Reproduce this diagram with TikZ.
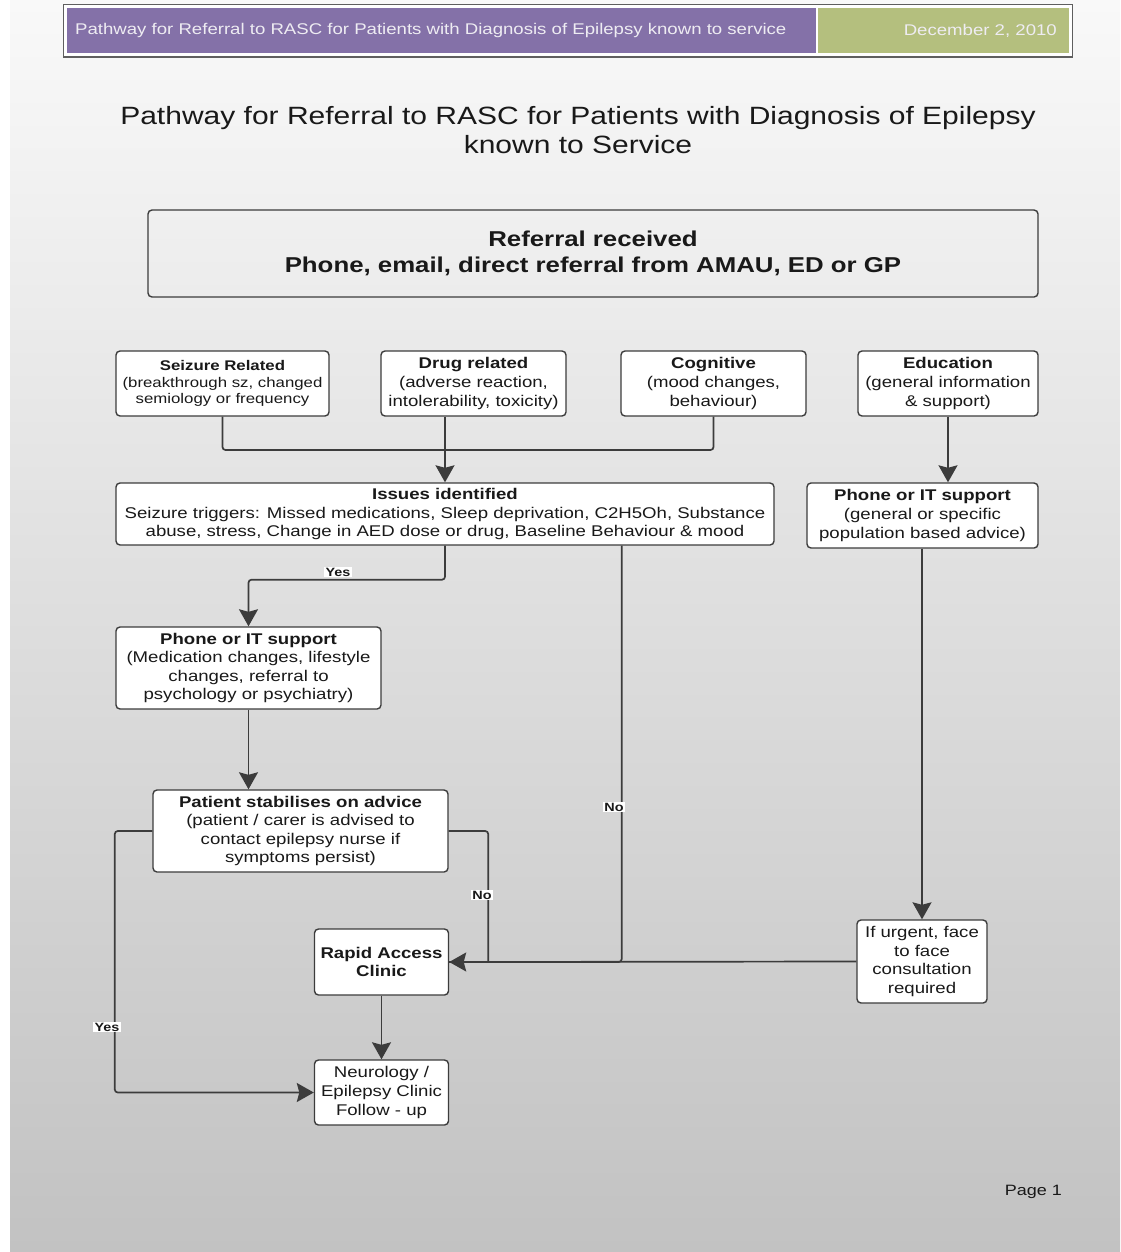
\documentclass[tikz,border=0pt]{standalone}
\usepackage{fontspec}
\setmainfont{Liberation Sans}[FakeStretch=1.2]
\usetikzlibrary{arrows.meta,calc}

\definecolor{bgtop}{RGB}{249,249,249}
\definecolor{bgbot}{RGB}{194,194,194}
\definecolor{linec}{RGB}{60,60,60}
\definecolor{hdrpurple}{RGB}{132,113,168}
\definecolor{hdrgreen}{RGB}{180,191,126}
\definecolor{hdrframe}{RGB}{95,95,95}
\definecolor{hdrtext}{RGB}{238,236,242}
\definecolor{inkc}{RGB}{25,25,25}

\tikzset{
  box/.style={draw=linec, line width=1.4pt, fill=white, rounded corners=4pt,
    align=center, inner sep=0pt, text=inkc,
    font=\fontsize{15.5}{18.6}\selectfont},
  con/.style={draw=linec, line width=1.7pt, rounded corners=3pt},
  arr/.style={con, -{Stealth[length=17pt,width=19pt,inset=2.5pt]}},
  lab/.style={fill=white, inner sep=1.2pt, text=inkc,
    font=\fontsize{12}{13}\selectfont\bfseries}
}

\begin{document}
\begin{tikzpicture}[x=1pt,y=-1pt]
\useasboundingbox (0,0) rectangle (1120,1252);
% page background
\fill[white] (0,0) rectangle (1120,1252);
\shade[top color=bgtop,bottom color=bgbot] (10,0) rectangle (1120,1252);

% header band
\draw[draw=hdrframe, line width=1.2pt, fill=white] (63.5,4.5) rectangle (1072.5,57);
\fill[hdrpurple] (67,8) rectangle (815.5,53.5);
\fill[hdrgreen] (818,8) rectangle (1069,53.5);
\node[anchor=west, text=hdrtext, inner sep=0pt, font=\fontsize{15.5}{18}\selectfont] (htext) at (75,30.5)
  {Pathway for Referral to RASC for Patients with Diagnosis of Epilepsy known to service};
\node[anchor=east, text=hdrtext, inner sep=0pt, font=\fontsize{15.5}{18}\selectfont] (hdate) at (1057,30.5)
  {December 2, 2010};

% title
\node[align=center, text=inkc, font=\fontsize{25}{29}\selectfont] (title) at (578,130.5)
  {Pathway for Referral to RASC for Patients with Diagnosis of Epilepsy\\known to Service};

% boxes
\node[box, fill=none, minimum width=890pt, minimum height=87pt,
  font=\fontsize{21.5}{26}\selectfont\bfseries] (ref) at (593,253.5)
  {Referral received\\Phone, email, direct referral from AMAU, ED or GP};

\node[box, minimum width=213pt, minimum height=65pt, font=\fontsize{14}{16.6}\selectfont] (sz) at (222.5,383.5)
  {\textbf{Seizure Related}\\(breakthrough sz, changed\\semiology or frequency};
\node[box, minimum width=185pt, minimum height=65pt] (drug) at (473.5,383.5)
  {\textbf{Drug related}\\(adverse reaction,\\intolerability, toxicity)};
\node[box, minimum width=185pt, minimum height=65pt] (cog) at (713.5,383.5)
  {\textbf{Cognitive}\\(mood changes,\\behaviour)};
\node[box, minimum width=180pt, minimum height=65pt] (edu) at (948,383.5)
  {\textbf{Education}\\(general information\\\& support)};

\node[box, minimum width=658pt, minimum height=62pt] (iss) at (445,514)
  {\textbf{Issues identified}\\Seizure triggers: Missed medications, Sleep deprivation, C2H5Oh, Substance\\abuse, stress, Change in AED dose or drug, Baseline Behaviour \& mood};
\node[box, minimum width=231pt, minimum height=65pt] (phr) at (922.5,515.5)
  {\textbf{Phone or IT support}\\(general or specific\\population based advice)};

\node[box, minimum width=265pt, minimum height=82pt] (phl) at (248.5,668)
  {\textbf{Phone or IT support}\\(Medication changes, lifestyle\\changes, referral to\\psychology or psychiatry)};
\node[box, minimum width=295pt, minimum height=82pt] (pat) at (300.5,831)
  {\textbf{Patient stabilises on advice}\\(patient / carer is advised to\\contact epilepsy nurse if\\symptoms persist)};

\node[box, minimum width=134pt, minimum height=66pt] (rap) at (381.5,962)
  {\textbf{Rapid Access}\\\textbf{Clinic}};
\node[box, minimum width=134pt, minimum height=65pt] (neu) at (381.5,1092.5)
  {Neurology /\\Epilepsy Clinic\\Follow - up};
\node[box, minimum width=130pt, minimum height=83pt] (urg) at (922,961.5)
  {If urgent, face\\to face\\consultation\\required};

% connectors
\coordinate (jn) at (445,450);
\draw[con] (sz.south) |- (jn);
\draw[con] (cog.south) |- (jn);
\draw[arr] (iss.north |- drug.south) -- (iss.north);
\draw[arr] (edu.south) -- (edu.south |- phr.north);
\draw[arr] (iss.south) -- ++(0,34) -| (phl.north);
\draw[con] ($(iss.south east)+(-153,0)$) |- (rap.east);
\draw[arr] (urg.north |- phr.south) -- (urg.north);
\draw[arr] (urg.west) -- (rap.east);
\draw[arr] (phl.south) -- (phl.south |- pat.north);
\draw[con] (pat.east) -| ($(rap.east)+(39,0)$);
\draw[arr] (pat.west) -| ($(neu.west)+(-199,0)$) -- (neu.west);
\draw[arr] (rap.south) -- (neu.north);

% branch labels
\node[lab] (yes1) at (338,572) {Yes};
\node[lab] (no1) at (614,807) {No};
\node[lab] (no2) at (482,895) {No};
\node[lab] (yes2) at (107,1027) {Yes};

% footer
\node[anchor=east, inner sep=0pt, text=inkc, font=\fontsize{15}{18}\selectfont] (page) at (1062,1192) {Page 1};
\end{tikzpicture}
\end{document}
